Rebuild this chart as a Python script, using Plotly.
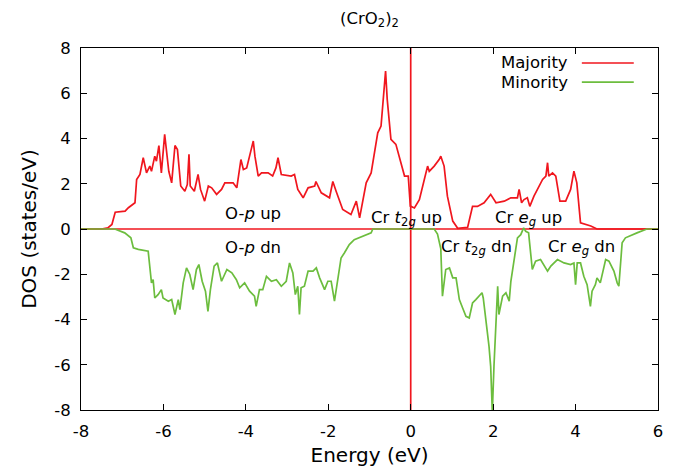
import plotly.graph_objects as go

# ---- data ----
energy_major = [-8, -7.5, -7.35, -7.25, -7.17, -6.93, -6.85, -6.69, -6.65, -6.57, -6.49, -6.45, -6.41, -6.33,
                -6.29, -6.21, -6.17, -6.11, -6.05, -5.97, -5.87, -5.80, -5.72, -5.66, -5.58, -5.48, -5.42,
                -5.38, -5.35, -5.25, -5.16, -5.10, -5.0, -4.91, -4.83, -4.71, -4.59, -4.51, -4.31, -4.22,
                -4.19, -4.12, -4.06, -3.98, -3.87, -3.82, -3.78, -3.70, -3.62, -3.46, -3.35, -3.27, -3.22,
                -3.14, -2.90, -2.82, -2.74, -2.61, -2.49, -2.33, -2.30, -2.17, -1.97, -1.89, -1.81, -1.65,
                -1.45, -1.32, -1.24, -1.08, -0.96, -0.80, -0.72, -0.64, -0.61, -0.57, -0.48, -0.36, -0.23,
                -0.15, -0.06, -0.01, 0.09, 0.21, 0.33, 0.41, 0.45, 0.57, 0.69, 0.73, 0.81, 0.89, 1.02, 1.14,
                1.38, 1.46, 1.50, 1.62, 1.78, 1.94, 2.07, 2.27, 2.43, 2.59, 2.63, 2.69, 2.75, 2.83, 2.89,
                2.99, 3.20, 3.28, 3.32, 3.35, 3.44, 3.52, 3.62, 3.76, 3.88, 3.96, 4.03, 4.12, 4.37, 4.52, 6]
dos_major = [0, 0, 0.05, 0.2, 0.74, 0.79, 0.94, 1.16, 2.19, 2.41, 3.15, 2.85, 2.48, 2.78,
             2.55, 3.22, 3.0, 3.69, 2.48, 4.18, 2.55, 2.04, 3.69, 3.51, 1.9, 1.67, 1.97,
             3.30, 1.9, 1.67, 2.41, 1.75, 1.23, 1.9, 1.82, 1.53, 1.75, 2.04, 2.04, 1.82,
             2.26, 3.07, 2.63, 2.7, 3.52, 3.89, 3.22, 2.34, 2.48, 2.48, 2.34, 2.7, 3.15,
             2.41, 2.34, 2.41, 1.75, 1.38, 1.82, 1.9, 2.1, 1.6, 1.38, 2.1, 1.67, 0.86,
             0.64, 1.23, 0.49, 2.04, 2.48, 4.25, 4.55, 6.47, 6.98, 5.73, 3.96, 3.74, 2.93,
             2.34, 2.34, 1.01, 0.93, 1.3, 2.19, 2.78, 2.55, 2.78, 3.07, 3.22, 2.78, 1.45, 0.35, 0.03,
             0.07, 0.72, 1.0, 1.0, 1.16, 1.53, 1.16, 1.23, 1.38, 1.38, 1.75, 1.16, 1.3, 1.38, 1.0,
             1.45, 2.19, 2.34, 2.93, 2.34, 2.48, 2.34, 1.23, 1.23, 1.75, 2.56, 2.04, 0.27, 0.13, 0, 0]

energy_minor = [-8, -7.18, -6.94, -6.79, -6.73, -6.61, -6.37, -6.29, -6.25, -6.21, -6.13, -6.05, -6.01, -5.88,
                -5.80, -5.72, -5.64, -5.60, -5.52, -5.44, -5.36, -5.28, -5.20, -5.14, -5.06, -4.98, -4.92,
                -4.86, -4.77, -4.69, -4.59, -4.46, -4.34, -4.23, -4.15, -4.03, -3.91, -3.79, -3.75, -3.67,
                -3.59, -3.50, -3.38, -3.26, -3.14, -3.02, -2.94, -2.86, -2.80, -2.74, -2.70, -2.66, -2.58,
                -2.49, -2.37, -2.29, -2.21, -2.09, -2.01, -1.93, -1.85, -1.77, -1.69, -1.61, -1.49, -1.37,
                -1.16, -0.96, -0.92, 0.57, 0.65, 0.73, 0.77, 0.85, 0.94, 1.02, 1.10, 1.18, 1.26, 1.34,
                1.42, 1.50, 1.58, 1.66, 1.73, 1.76, 1.82, 1.90, 1.94, 1.98, 2.02, 2.07, 2.11, 2.14, 2.23,
                2.31, 2.39, 2.43, 2.51, 2.59, 2.67, 2.74, 2.79, 2.86, 2.95, 3.03, 3.15, 3.32, 3.40, 3.56,
                3.72, 3.88, 3.96, 4.00, 4.04, 4.12, 4.20, 4.28, 4.36, 4.40, 4.48, 4.52, 4.60, 4.73, 4.81,
                4.93, 5.01, 5.05, 5.13, 5.21, 5.49, 5.73, 6]
dos_minor = [0, 0, -0.17, -0.39, -0.83, -0.9, -0.98, -2.38, -2.24, -3.05, -2.9, -2.68, -3.05, -3.19,
             -3.12, -3.78, -3.12, -3.56, -2.38, -1.72, -2.01, -2.68, -1.79, -1.57, -2.31, -2.75, -3.64,
             -2.68, -1.64, -1.5, -2.31, -1.79, -1.94, -2.24, -2.6, -2.38, -2.75, -2.97, -3.42, -2.68,
             -2.68, -2.09, -2.31, -2.24, -2.53, -2.31, -1.5, -1.94, -2.9, -2.53, -3.78, -2.6, -2.53,
             -1.86, -1.86, -1.72, -2.16, -2.68, -2.31, -2.31, -3.19, -2.16, -1.28, -1.06, -0.69, -0.47,
             -0.32, -0.17, 0, 0, -0.22, -0.88, -2.97, -1.79, -1.72, -2.16, -2.16, -3.12, -3.49, -3.86,
             -3.93, -3.27, -3.12, -2.97, -2.82, -3.05, -3.93, -5.19, -6.07, -8.1, -6.07, -3.93, -2.53, -3.78, -2.97,
             -2.82, -3.19, -2.31, -1.42, -0.39, -0.25, 0.05, -0.1, -0.17, -1.79, -1.42, -1.35, -1.86, -1.64, -1.35,
             -1.5, -1.57, -1.5, -2.46, -1.5, -1.5, -2.09, -2.46, -3.42, -2.75, -2.46, -2.16, -2.38, -1.35, -1.42,
             -1.86, -2.38, -2.53, -0.61, -0.39, -0.17, 0, 0]

x_ticks = [-8, -6, -4, -2, 0, 2, 4, 6]
x_tick_text = ["-8", "-6", "-4", "-2", "0", "2", "4", "6"]
y_ticks = [-8, -6, -4, -2, 0, 2, 4, 6, 8]
y_tick_text = ["-8", "-6", "-4", "-2", "0", "2", "4", "6", "8"]

labels = ["O-<i>p</i> up", "O-<i>p</i> dn", "Cr <i>t</i><sub>2<i>g</i></sub> up",
          "Cr <i>t</i><sub>2<i>g</i></sub> dn", "Cr <i>e</i><sub><i>g</i></sub> up",
          "Cr <i>e</i><sub><i>g</i></sub> dn"]
label_x = [-3.82, -3.82, -0.11, 1.59, 2.85, 4.14]
label_y = [0.69, -0.83, 0.45, -0.8, 0.47, -0.8]

RED = "#f0161e"
GREEN = "#6cbd3e"
FONT = "DejaVu Sans, sans-serif"
FS = 16.5

fig = go.Figure()
fig.add_trace(go.Scatter(x=energy_major, y=dos_major, mode="lines", name="Majority",
                         line=dict(color=RED, width=1.7), showlegend=False))
fig.add_trace(go.Scatter(x=energy_minor, y=dos_minor, mode="lines", name="Minority",
                         line=dict(color=GREEN, width=1.7), showlegend=False))

# zero reference lines
fig.add_shape(type="line", xref="x", yref="y", x0=-8, x1=6, y0=0, y1=0,
              line=dict(color=RED, width=1.7), layer="below")
fig.add_shape(type="line", xref="x", yref="y", x0=0, x1=0, y0=-8, y1=8,
              line=dict(color=RED, width=1.7), layer="below")

for t, xx, yy in zip(labels, label_x, label_y):
    fig.add_annotation(x=xx, y=yy, text=t, showarrow=False, xref="x", yref="y",
                       font=dict(size=FS, color="black", family=FONT))

# gnuplot-style key: text then line sample
key_names = ["Majority", "Minority"]
key_colors = [RED, GREEN]
key_y = [0.9586, 0.906]
for name, col, ky in zip(key_names, key_colors, key_y):
    fig.add_annotation(x=0.8475, y=ky, xref="paper", yref="paper", text=name, showarrow=False,
                       xanchor="right", yanchor="middle", font=dict(size=FS, color="black", family=FONT))
    fig.add_shape(type="line", xref="paper", yref="paper", x0=0.868, x1=0.958, y0=ky, y1=ky,
                  line=dict(color=col, width=1.7))

fig.update_layout(
    width=678, height=470,
    margin=dict(l=81, r=20, t=48, b=60),
    paper_bgcolor="white", plot_bgcolor="white",
    font=dict(family=FONT, size=FS, color="black"),
    title=dict(text="(CrO<sub>2</sub>)<sub>2</sub>", xref="paper", x=0.5, xanchor="center",
               y=0.962, yanchor="middle", font=dict(size=FS, family=FONT)),
    showlegend=False,
)
fig.update_xaxes(range=[-8, 6], tickvals=x_ticks, ticktext=x_tick_text, ticks="inside", ticklen=6,
                 tickcolor="black", showline=True, linecolor="black", linewidth=1, mirror="allticks",
                 showgrid=False, zeroline=False, ticklabelstandoff=6, automargin=False,
                 title=dict(text="Energy (eV)", standoff=8), tickfont=dict(size=FS, family=FONT))
fig.update_yaxes(range=[-8, 8], tickvals=y_ticks, ticktext=y_tick_text, ticks="inside", ticklen=6,
                 tickcolor="black", showline=True, linecolor="black", linewidth=1, mirror="allticks",
                 showgrid=False, zeroline=False, ticklabelstandoff=6, automargin=False,
                 title=dict(text="DOS (states/eV)", standoff=12), tickfont=dict(size=FS, family=FONT))

fig.write_html("out.html")
